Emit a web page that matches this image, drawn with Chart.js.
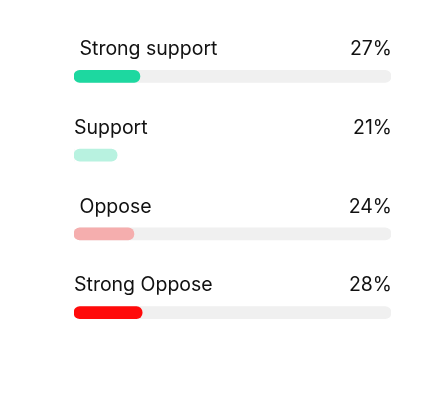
<!DOCTYPE html>
<html>
<head>
<meta charset="utf-8">
<script src="https://cdn.jsdelivr.net/npm/chart.js@4"></script>
<style>
  html, body { margin: 0; padding: 0; background: #fff; }
  #wrap { width: 432px; height: 419px; }
</style>
</head>
<body>
<div id="wrap"><canvas id="myChart"></canvas></div>
<script>
// labels as shown (some carry a leading space in the original)
const categories = [' Strong support', 'Support', ' Oppose', 'Strong Oppose'];
const percentLabels = ['27%', '21%', '24%', '28%'];
// fill length of each bar, as share of the full track
const fillValues = [20.8, 13.6, 18.9, 21.5];
// grey track behind each bar (Support has none)
const trackValues = [100, 0, 100, 100];
const fillColors = ['#1dd8a0', '#b8f2e0', '#f5aeae', '#ff0a0a'];

// draws the label and percent above every bar
const barLabels = {
  id: 'barLabels',
  afterDatasetsDraw(chart) {
    const { ctx, chartArea, scales } = chart;
    ctx.save();
    ctx.font = '19.5px Inter';
    ctx.fillStyle = '#111';
    ctx.textBaseline = 'middle';
    categories.forEach((cat, i) => {
      const y = scales.y.getPixelForValue(i) - 27;
      ctx.textAlign = 'left';
      ctx.fillText(cat, chartArea.left, y);
      ctx.textAlign = 'right';
      ctx.fillText(percentLabels[i], chartArea.right + 1, y);
    });
    ctx.restore();
  }
};

new Chart(document.querySelector('#myChart'), {
  type: 'bar',
  data: {
    labels: categories,
    datasets: [{
      label: 'Share',
      data: fillValues,
      backgroundColor: fillColors,
      borderRadius: 6,
      borderSkipped: false,
      barThickness: 12,
      grouped: false,
      order: 0
    }, {
      label: 'Track',
      data: trackValues,
      backgroundColor: '#f0f0f0',
      borderRadius: 6,
      borderSkipped: false,
      barThickness: 12,
      grouped: false,
      order: 1
    }]
  },
  options: {
    indexAxis: 'y',
    responsive: true,
    maintainAspectRatio: false,
    animation: false,
    layout: { padding: { left: 74, right: 41, top: 37, bottom: 67 } },
    plugins: {
      legend: { display: false },
      tooltip: { enabled: false }
    },
    scales: {
      x: { display: false, min: 0, max: 100 },
      y: { display: false }
    }
  },
  plugins: [barLabels]
});
</script>
</body>
</html>
